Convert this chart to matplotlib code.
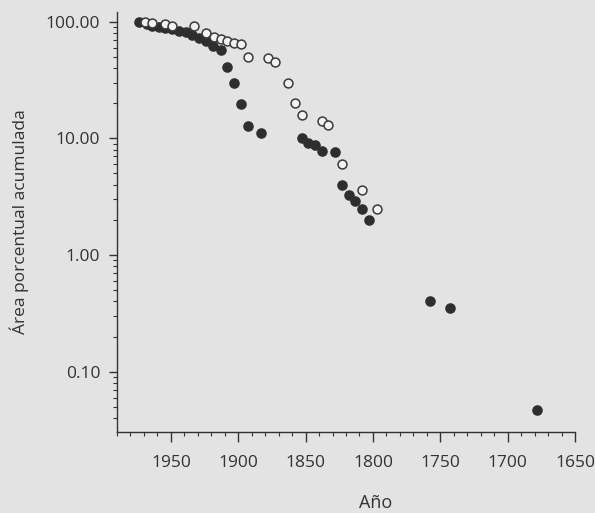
import matplotlib
matplotlib.use('Agg')
import matplotlib.pyplot as plt
from matplotlib.ticker import FixedLocator, LogLocator, NullFormatter, MultipleLocator

# Serie 1 (círculos rellenos): año y área porcentual acumulada
anio_rellenos = [1974, 1968, 1964, 1959, 1954, 1949, 1944, 1939, 1934, 1929,
                 1924, 1919, 1913, 1908, 1903, 1898, 1893, 1883, 1853, 1848,
                 1843, 1838, 1828, 1823, 1818, 1813, 1808, 1803, 1758, 1743,
                 1678]
area_rellenos = [100.0, 95.0, 92.0, 90.6, 88.5, 86.0, 83.2, 81.1, 76.9, 72.1,
                 68.8, 61.9, 57.2, 40.6, 29.7, 19.7, 12.7, 11.1, 10.0, 9.1,
                 8.8, 7.85, 7.6, 4.0, 3.25, 2.9, 2.47, 1.99, 0.40, 0.35,
                 0.047]

# Serie 2 (círculos vacíos)
anio_vacios = [1969, 1964, 1954, 1949, 1933, 1924, 1918, 1913, 1908, 1903,
               1898, 1893, 1878, 1873, 1863, 1858, 1853, 1838, 1833, 1823,
               1808, 1797]
area_vacios = [100.0, 96.9, 95.0, 92.4, 91.8, 79.6, 74.4, 71.1, 68.4, 65.4,
               64.0, 50.1, 48.5, 45.4, 29.7, 20.1, 15.7, 14.1, 12.9, 6.0,
               3.63, 2.48]

yticks = [0.1, 1, 10, 100]
ytick_labels = ['0.10', '1.00', '10.00', '100.00']
xticks = [1950, 1900, 1850, 1800, 1750, 1700, 1650]

fondo = '#e3e3e3'
tinta = '#333333'

plt.rcParams['font.family'] = ['Open Sans', 'DejaVu Sans']

fig = plt.figure(figsize=(5.95, 5.13), dpi=100, facecolor=fondo)
ax = fig.add_axes([0.1966, 0.1579, 0.7698, 0.8187], facecolor=fondo)

ax.plot(anio_rellenos, area_rellenos, 'o', ms=6.6, color='#2e2e2e',
        mec='#2e2e2e', zorder=3)
ax.plot(anio_vacios, area_vacios, 'o', ms=6.4, mfc='#f2f2f2',
        mec='#3a3a3a', mew=1.1, zorder=4)

ax.set_yscale('log')
ax.set_ylim(0.0304, 121)
ax.set_xlim(1990, 1650)

ax.yaxis.set_major_locator(FixedLocator(yticks))
ax.set_yticklabels(ytick_labels)
ax.yaxis.set_minor_locator(LogLocator(base=10, subs=range(2, 10)))
ax.yaxis.set_minor_formatter(NullFormatter())

ax.xaxis.set_major_locator(FixedLocator(xticks))
ax.set_xticklabels([str(x) for x in xticks])
ax.xaxis.set_minor_locator(MultipleLocator(10))

for lado in ['top', 'right']:
    ax.spines[lado].set_visible(False)
for lado in ['left', 'bottom']:
    ax.spines[lado].set_color(tinta)
    ax.spines[lado].set_linewidth(1.0)

ax.tick_params(axis='both', which='major', direction='out', colors=tinta,
               labelsize=12.5, width=1.0)
ax.tick_params(axis='x', which='major', length=7.5, pad=9)
ax.tick_params(axis='y', which='major', length=6, pad=6)
ax.tick_params(axis='both', which='minor', direction='out', colors=tinta,
               length=3, width=0.8)

ax.set_ylabel('Área porcentual acumulada', fontsize=12.5, color=tinta, labelpad=12)
ax.set_xlabel('Año', fontsize=13, color=tinta)
ax.xaxis.set_label_coords(0.565, -0.148)

fig.savefig('out.png', dpi=100, facecolor=fondo)
